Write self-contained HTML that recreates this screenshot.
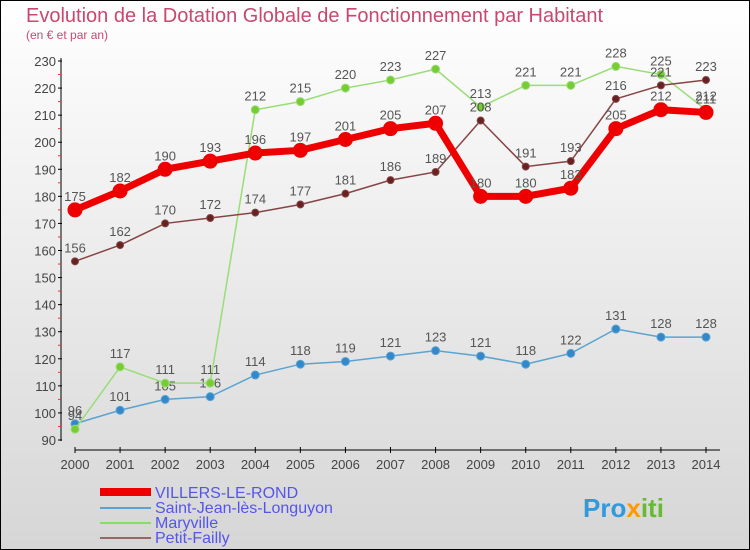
<!DOCTYPE html>
<html><head><meta charset="utf-8"><style>
body{margin:0}
svg{display:block;font-family:"Liberation Sans","DejaVu Sans",sans-serif}
</style></head><body>
<svg id="c" width="750" height="550" xmlns="http://www.w3.org/2000/svg">
<defs><linearGradient id="bg" x1="0" y1="0" x2="0" y2="1"><stop offset="0" stop-color="#ffffff"/><stop offset="1" stop-color="#d6d6d6"/></linearGradient></defs>
<rect x="0.5" y="0.5" width="749" height="549" fill="url(#bg)" stroke="#000"/>
<text x="26" y="22" font-size="20" fill="#c84870">Evolution de la Dotation Globale de Fonctionnement par Habitant</text>
<text x="26" y="39" font-size="12" fill="#c84870">(en € et par an)</text>
<g id="axes"></g><g id="series"></g>
<g>
<rect x="100" y="488" width="51" height="8" fill="#ee0000"/>
<text x="155" y="498" font-size="16" fill="#5555ee">VILLERS-LE-ROND</text>
<line x1="100" y1="508" x2="151" y2="508" stroke="#5ba3d0" stroke-width="2"/>
<text x="155" y="513" font-size="16" fill="#5555ee">Saint-Jean-lès-Longuyon</text>
<line x1="100" y1="523" x2="151" y2="523" stroke="#88dd66" stroke-width="2"/>
<text x="155" y="528" font-size="16" fill="#5555ee">Maryville</text>
<line x1="100" y1="538" x2="151" y2="538" stroke="#996666" stroke-width="2"/>
<text x="155" y="543" font-size="16" fill="#5555ee">Petit-Failly</text>
</g>
<g>
<text x="583" y="517" font-size="26" font-weight="bold" fill="#3399dd">Pro<tspan fill="#ff9900">x</tspan><tspan fill="#66bb33">iti</tspan></text>
</g>
</svg>
<script>
const years=[2000,2001,2002,2003,2004,2005,2006,2007,2008,2009,2010,2011,2012,2013,2014];
const yTicks=[90,100,110,120,130,140,150,160,170,180,190,200,210,220,230];
const villers=[175,182,190,193,196,197,201,205,207,180,180,183,205,212,211];
const saintJean=[96,101,105,106,114,118,119,121,123,121,118,122,131,128,128];
const maryville=[94,117,111,111,212,215,220,223,227,213,221,221,228,225,212];
const petitFailly=[156,162,170,172,174,177,181,186,189,208,191,193,216,221,223];
const NS="http://www.w3.org/2000/svg";
function X(i){return 75+i*(706-75)/(years.length-1);}
function Y(v){return 440-(v-90)*(440-61)/140;}
function mk(t,a,p){const e=document.createElementNS(NS,t);for(const k in a)e.setAttribute(k,a[k]);p.appendChild(e);return e;}
const ax=document.getElementById('axes');
mk('line',{x1:61,y1:58,x2:61,y2:441,stroke:'#000'},ax);
mk('line',{x1:75,y1:450,x2:720,y2:450,stroke:'#000'},ax);
yTicks.forEach(v=>{
 mk('line',{x1:58,y1:Y(v),x2:62,y2:Y(v),stroke:'#000'},ax);
 if(v<230)mk('line',{x1:58,y1:Y(v+5),x2:61,y2:Y(v+5),stroke:'#e33'},ax);
 const t=mk('text',{x:56,y:Y(v)+5,'font-size':13,'text-anchor':'end',fill:'#444'},ax);
 
 
 t.textContent=v;
});
years.forEach((y,i)=>{
 mk('line',{x1:X(i),y1:447,x2:X(i),y2:453,stroke:'#000'},ax);
 const t=mk('text',{x:X(i),y:469,'font-size':13,'text-anchor':'middle',fill:'#444'},ax);
 
 
 t.textContent=y;
});
const sg=document.getElementById('series');
function draw(data,name,color,dot,w,r){
 const g=mk('g',{},sg);
 
 
 mk('polyline',{points:data.map((v,i)=>X(i)+','+Y(v)).join(' '),fill:'none',stroke:color,'stroke-width':w},g);
 data.forEach((v,i)=>{
  const c=mk('circle',{cx:X(i),cy:Y(v),r:r,fill:dot,stroke:color,'stroke-width':1},g);
  
  
  const t=mk('text',{x:X(i),y:Y(v)-9,'font-size':13,'text-anchor':'middle',fill:'#555'},g);
  
  
  t.textContent=v;
 });
}
draw(saintJean,'saint-jean-series','#5ba3d0','#3388cc',1.5,4);
draw(maryville,'maryville-series','#99dd77','#77cc33',1.5,4);
draw(petitFailly,'petit-failly-series','#884444','#662222',1.5,3.5);
draw(villers,'villers-series','#ee0000','#ee0000',7,7);
</script>
</body></html>
